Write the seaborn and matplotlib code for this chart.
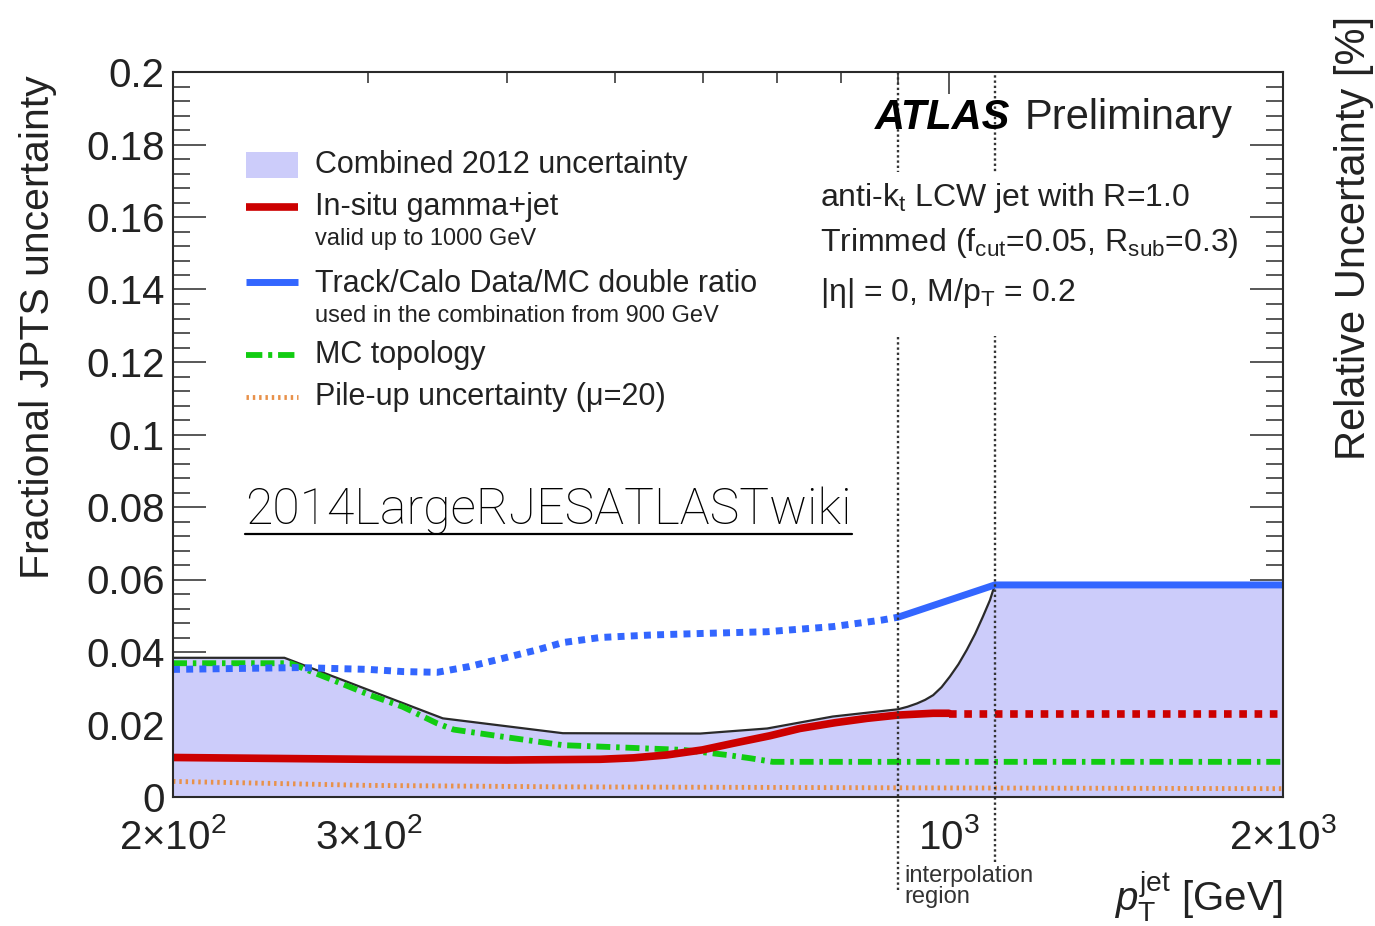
import numpy as np
import pandas as pd
import matplotlib
matplotlib.use("Agg")
import matplotlib.pyplot as plt
import seaborn as sns
from matplotlib.ticker import FixedLocator, FuncFormatter, MultipleLocator
from matplotlib.patches import Rectangle
from matplotlib.lines import Line2D

# ---------------- data ----------------
# Combined 2012 uncertainty (envelope)
comb_pt = [200, 252, 350, 449, 597, 686, 786, 900, 918, 936, 952, 968, 985, 1002, 1020, 1038, 1056, 1073, 1089, 1100, 2000]
comb_unc = [0.0384, 0.0384, 0.0217, 0.0176, 0.0175, 0.0189, 0.0222, 0.0242, 0.0249, 0.0258, 0.0268, 0.0281,
            0.0303, 0.0332, 0.0366, 0.0406, 0.0450, 0.0497, 0.0543, 0.0585, 0.0585]

# In-situ gamma+jet (valid up to 1000 GeV), then extrapolated
gj_pt = [200, 300, 400, 485, 520, 557, 600, 639, 690, 734, 790, 844, 900, 968, 1000]
gj_unc = [0.0109, 0.0104, 0.0102, 0.0104, 0.0108, 0.0116, 0.0130, 0.0148, 0.0169, 0.0189,
          0.0205, 0.0217, 0.0226, 0.0231, 0.0231]
gj_ext_pt = [1000, 2000]
gj_ext_unc = [0.0229, 0.0229]

# Track/Calo Data/MC double ratio: below 900 GeV (not used), from 900 GeV (used)
tc_pt = [200, 260, 300, 322, 346, 370, 397, 426, 449, 485, 540, 597, 686, 786, 870, 900]
tc_unc = [0.0352, 0.0357, 0.0352, 0.0346, 0.0344, 0.0360, 0.0383, 0.0406, 0.0426, 0.0440,
          0.0447, 0.0451, 0.0456, 0.0470, 0.0488, 0.0496]
tc_used_pt = [900, 1100, 2000]
tc_used_unc = [0.0496, 0.0585, 0.0585]

# MC topology
topo_pt = [200, 255, 262, 281, 301, 322, 346, 358, 397, 449, 485, 576, 631, 662, 694, 2000]
topo_unc = [0.0369, 0.0369, 0.0355, 0.0318, 0.0281, 0.0249, 0.0203, 0.0186, 0.0166, 0.0143,
            0.0139, 0.0130, 0.0116, 0.0107, 0.0097, 0.0097]

# Pile-up uncertainty (mu=20)
pu_pt = [200, 260, 300, 450, 1000, 2000]
pu_unc = [0.0043, 0.0036, 0.0032, 0.0028, 0.0025, 0.0023]

# interpolation region boundaries [GeV]
interp_edges = [900, 1100]

# axis ticks
xtick_values = [200, 300, 1000, 2000]
xtick_labels = [r"$2{\times}10^{2}$", r"$3{\times}10^{2}$", r"$10^{3}$", r"$2{\times}10^{3}$"]
xminor_values = [200, 300, 400, 500, 600, 700, 800, 900, 2000]
ytick_values = [0, 0.02, 0.04, 0.06, 0.08, 0.1, 0.12, 0.14, 0.16, 0.18, 0.2]
ytick_labels = ["0", "0.02", "0.04", "0.06", "0.08", "0.1", "0.12", "0.14", "0.16", "0.18", "0.2"]

legend_labels = ["Combined 2012 uncertainty", "In-situ gamma+jet", "Track/Calo Data/MC double ratio",
                 "MC topology", "Pile-up uncertainty (\u03bc=20)"]
legend_notes = ["valid up to 1000 GeV", "used in the combination from 900 GeV"]

# ---------------- style ----------------
sns.set_theme(style="ticks")
FONT = "Liberation Sans"
plt.rcParams["font.family"] = [FONT, "DejaVu Sans"]
plt.rcParams["mathtext.fontset"] = "custom"
plt.rcParams["mathtext.rm"] = FONT
plt.rcParams["mathtext.it"] = FONT + ":italic"
plt.rcParams["mathtext.bf"] = FONT + ":bold"
plt.rcParams["mathtext.default"] = "regular"

C_FILL = "#ccccfa"
C_RED = "#cc0000"
C_BLUE = "#3366ff"
C_GREEN = "#11cc11"
C_ORANGE = "#e8914a"
C_DARK = "#2a2a2a"

W, H = 1375, 926
fig = plt.figure(figsize=(W / 100, H / 100), dpi=100)
fig.patch.set_facecolor("white")
AX_L, AX_R, AX_T, AX_B = 173, 1283, 72, 797
ax = fig.add_axes([AX_L / W, 1 - AX_B / H, (AX_R - AX_L) / W, (AX_B - AX_T) / H])
ax.set_facecolor("white")
ax.set_xscale("log")
ax.set_xlim(200, 2000)
ax.set_ylim(0, 0.2)


def axfrac(px, py):
    return (px - AX_L) / (AX_R - AX_L), (AX_B - py) / (AX_B - AX_T)


def figxy(px, py):
    return px / W, 1 - py / H


# combined band
ax.fill_between(comb_pt, 0, comb_unc, color=C_FILL, lw=0, zorder=1)
sns.lineplot(x=comb_pt, y=comb_unc, ax=ax, color=C_DARK, lw=1.6, zorder=2, sort=False)

DOT_BLUE = (0, (1.0, 0.9))
DOT_RED = (0, (1.0, 1.0))
DASHDOT = (0, (2.4, 1.0, 0.6, 1.0))
DOT_PU = (0, (0.5, 0.8))

sns.lineplot(x=pu_pt, y=pu_unc, ax=ax, color=C_ORANGE, lw=3.5, linestyle=DOT_PU, zorder=3, sort=False)
sns.lineplot(x=topo_pt, y=topo_unc, ax=ax, color=C_GREEN, lw=4.2, linestyle=DASHDOT, zorder=3, sort=False)
sns.lineplot(x=gj_pt, y=gj_unc, ax=ax, color=C_RED, lw=5.5, zorder=4, sort=False)
sns.lineplot(x=gj_ext_pt, y=gj_ext_unc, ax=ax, color=C_RED, lw=5.5, linestyle=DOT_RED, zorder=4, sort=False)
sns.lineplot(x=tc_pt, y=tc_unc, ax=ax, color=C_BLUE, lw=5, linestyle=DOT_BLUE, zorder=4, sort=False)
sns.lineplot(x=tc_used_pt, y=tc_used_unc, ax=ax, color=C_BLUE, lw=5, zorder=4, sort=False)

# interpolation region markers (extend below the frame)
trans = ax.get_xaxis_transform()
for edge, ybot in zip(interp_edges, [(AX_B - 890) / (AX_B - AX_T), (AX_B - 862) / (AX_B - AX_T)]):
    ax.plot([edge, edge], [ybot, 1.0], transform=trans, color="#333333", lw=1.7,
            linestyle=(0, (1.0, 1.2)), clip_on=False, zorder=6)

# white box behind the jet-definition text block
bx0, by0 = axfrac(812, 336)
bx1, by1 = axfrac(1245, 172)
ax.add_patch(Rectangle((bx0, by0), bx1 - bx0, by1 - by0, transform=ax.transAxes,
                       facecolor="white", edgecolor="none", zorder=6.5))

# ---------------- axes ----------------
xlabel_map = dict(zip(xtick_values, xtick_labels))
ylabel_map = dict(zip(ytick_values, ytick_labels))
ax.xaxis.set_major_locator(FixedLocator([1000]))
ax.xaxis.set_minor_locator(FixedLocator(xminor_values))
fmt = FuncFormatter(lambda v, pos: xlabel_map.get(int(round(v)), ""))
ax.xaxis.set_major_formatter(fmt)
ax.xaxis.set_minor_formatter(fmt)
ax.yaxis.set_major_locator(FixedLocator(ytick_values))
ax.yaxis.set_major_formatter(FuncFormatter(lambda v, pos: ylabel_map.get(round(v, 3), "")))
ax.yaxis.set_minor_locator(MultipleLocator(0.004))

ax.tick_params(axis="both", which="both", direction="in", top=True, right=True,
               colors=C_DARK, width=1.1, labelcolor="#222222")
ax.tick_params(axis="x", which="major", length=15.8, labelsize=29, pad=15)
ax.tick_params(axis="x", which="minor", length=7.9, labelsize=29, pad=15)
ax.tick_params(axis="y", which="major", length=23.8, labelsize=29, pad=6)
ax.tick_params(axis="y", which="minor", length=11.9)
for sp in ax.spines.values():
    sp.set_color(C_DARK)
    sp.set_linewidth(1.5)
    sp.set_zorder(7)

TXT = "#222222"
fig.text(*figxy(38, 75), "Fractional JPTS uncertainty", rotation=90, ha="center", va="top",
         fontsize=29.5, color=TXT)
fig.text(*figxy(1354, 460), "Relative Uncertainty [%]", rotation=90, ha="center", va="bottom",
         fontsize=30, color=TXT)
fig.text(*figxy(1283, 896), r"$\mathit{p}_{\mathrm{T}}^{\mathrm{jet}}$ [GeV]", ha="right", va="center",
         fontsize=29, color=TXT)
fig.text(*figxy(904, 876), "interpolation", ha="left", va="center", fontsize=17, color="#333333")
fig.text(*figxy(904, 897), "region", ha="left", va="center", fontsize=17, color="#333333")

# ---------------- labels ----------------
fig.text(*figxy(875, 118), "ATLAS", fontsize=30, fontweight="bold", fontstyle="italic",
         ha="left", va="center", color="black")
fig.text(*figxy(1025, 118), "Preliminary", fontsize=30, ha="left", va="center", color=TXT)

fig.text(*figxy(820, 198), r"anti-k$_{t}$ LCW jet with R=1.0", fontsize=23, ha="left", va="center", color=TXT)
fig.text(*figxy(820, 243), r"Trimmed (f$_{cut}$=0.05, R$_{sub}$=0.3)", fontsize=23, ha="left", va="center", color=TXT)
fig.text(*figxy(820, 293), r"|$\eta$| = 0, M/p$_{T}$ = 0.2", fontsize=23, ha="left", va="center", color=TXT)

# legend
x0, y0 = axfrac(246, 178)
x1, y1 = axfrac(298, 152)
ax.add_patch(Rectangle((x0, y0), x1 - x0, y1 - y0, transform=ax.transAxes, color=C_FILL,
                       lw=0, clip_on=False, zorder=5))
handle_rows = [(207, C_RED, 5.5, "-"), (282, C_BLUE, 5, "-"), (355, C_GREEN, 4.2, (0, (2.8, 1.0, 0.7, 1.0))),
               (397, C_ORANGE, 3.5, DOT_PU)]
for py, col, lw, ls in handle_rows:
    xa, ya = axfrac(246, py)
    xb, _ = axfrac(298, py)
    ax.plot([xa, xb], [ya, ya], transform=ax.transAxes, color=col, lw=lw, linestyle=ls,
            clip_on=False, zorder=5, solid_capstyle="butt")

for txt, py in zip(legend_labels, [165, 207, 284, 355, 397]):
    fig.text(*figxy(315, py), txt, fontsize=22, ha="left", va="center", color=TXT)
for txt, py in zip(legend_notes, [239, 316]):
    fig.text(*figxy(315, py), txt, fontsize=17, ha="left", va="center", color=TXT)

# underlined wiki label
wiki = fig.text(*figxy(245, 511), "2014LargeRJESATLASTwiki", fontsize=36, ha="left", va="center",
                color="black", family=["Roboto", FONT], fontweight="light")
fig.canvas.draw()
bb = wiki.get_window_extent(renderer=fig.canvas.get_renderer())
uy = 1 - 534 / H
fig.add_artist(Line2D([bb.x0 / W, bb.x1 / W], [uy, uy], color="black", lw=1.6))

fig.savefig("out.png", dpi=100, facecolor="white")
